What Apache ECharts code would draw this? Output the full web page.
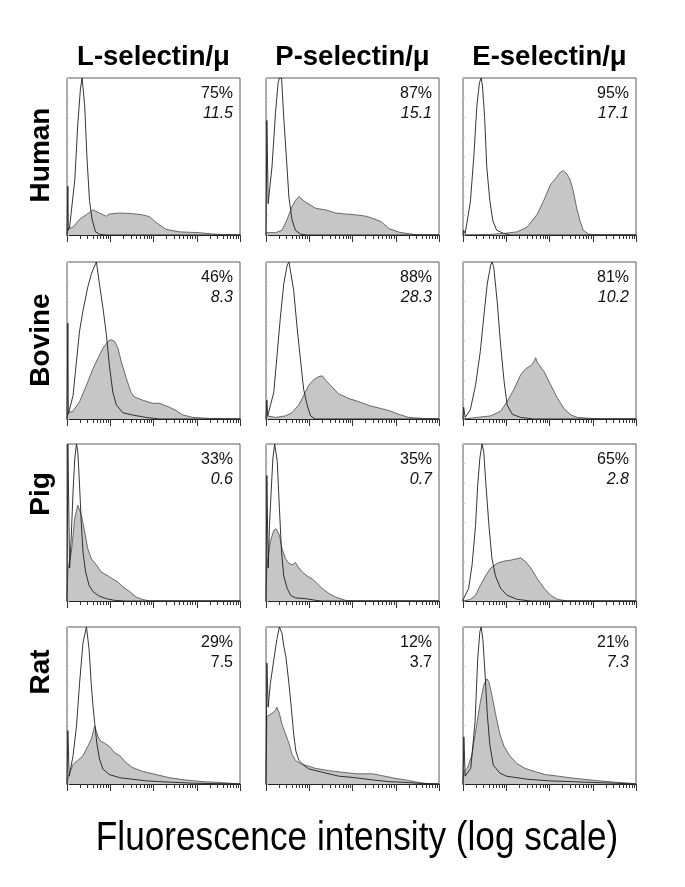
<!DOCTYPE html>
<html><head><meta charset="utf-8">
<script src="https://cdn.jsdelivr.net/npm/echarts@6/dist/echarts.min.js"></script>
<style>html,body{margin:0;padding:0;background:#fff}#c{width:685px;height:887px}</style>
</head><body><div id="c"></div>
<script>
// ---------- text / labels ----------
const columns = ['L-selectin/μ', 'P-selectin/μ', 'E-selectin/μ'];
const rows = ['Human', 'Bovine', 'Pig', 'Rat'];
const pctPositive = [[75, 87, 95], [46, 88, 81], [33, 35, 65], [29, 12, 21]];
const mfi = [['11.5', '15.1', '17.1'], ['8.3', '28.3', '10.2'], ['0.6', '0.7', '2.8'], ['7.5', '3.7', '7.3']];
const mfiItalic = [[true, true, true], [true, true, true], [true, true, true], [false, false, true]];
const xAxisTitle = 'Fluorescence intensity (log scale)';
const decadeTicks = [0, 1, 2, 3, 4];           // log10 of 10^0 .. 10^4
const minorMultipliers = [2, 3, 4, 5, 6, 7, 8, 9];

// ---------- histograms: [log10 intensity, % of panel height] ----------
// control (open) curves
const humanL_ctrl = [[0,0],[0.02,31],[0.03,3],[0.06,5],[0.18,35],[0.25,71],[0.31,93],[0.35,100],[0.41,82],[0.46,50],[0.52,22],[0.58,10],[0.66,2],[0.75,0.5],[0.9,0],[4,0]];
const humanP_ctrl = [[0,0],[0.02,73],[0.05,20],[0.14,44],[0.22,78],[0.28,97],[0.31,100],[0.36,100],[0.41,75],[0.47,50],[0.53,24],[0.6,10],[0.68,3],[0.8,0.5],[0.95,0],[4,0]];
const humanE_ctrl = [[0,0],[0.015,3],[0.05,1],[0.17,21],[0.25,50],[0.32,82],[0.38,97],[0.42,100],[0.45,95],[0.5,75],[0.55,43],[0.62,22],[0.69,9],[0.78,3],[0.94,1],[1.09,0],[4,0]];
const bovineL_ctrl = [[0,0],[0.02,61],[0.03,3],[0.06,4],[0.14,15],[0.22,37],[0.29,56],[0.37,69],[0.48,84],[0.56,92],[0.6,95],[0.68,100],[0.75,86],[0.83,71],[0.91,54],[0.98,34],[1.06,17],[1.14,9],[1.29,4],[1.52,2.5],[1.83,1],[2.14,0],[4,0]];
const bovineP_ctrl = [[0,0],[0.02,12],[0.04,2],[0.06,2],[0.18,17],[0.25,39],[0.33,64],[0.41,86],[0.49,98],[0.53,100],[0.56,99],[0.64,82],[0.72,58],[0.8,37],[0.87,19],[0.95,9],[1.03,2],[1.14,0],[4,0]];
const bovineE_ctrl = [[0,0],[0.015,7.5],[0.05,1],[0.17,6],[0.29,21.5],[0.4,43],[0.48,65],[0.56,86],[0.64,98],[0.67,100],[0.71,97],[0.79,75],[0.87,47],[0.95,24],[1.02,9],[1.14,3],[1.33,1],[1.64,0],[4,0]];
const pigL_ctrl = [[0,0],[0.02,100],[0.06,21],[0.1,42],[0.14,70],[0.18,91],[0.22,100],[0.25,95],[0.29,74],[0.33,50],[0.37,31],[0.43,18.5],[0.51,10],[0.6,6],[0.75,3],[0.91,1.5],[1.1,0.4],[1.37,0],[4,0]];
const pigP_ctrl = [[0,0],[0.02,80],[0.05,21],[0.08,48],[0.12,70],[0.16,91],[0.2,100],[0.26,89],[0.31,59],[0.36,31],[0.41,16],[0.49,8],[0.57,3.6],[0.68,2],[0.91,1.5],[1.15,0.4],[1.3,0],[4,0]];
const pigE_ctrl = [[0,0],[0.015,1.5],[0.13,8],[0.21,23],[0.29,48],[0.34,74],[0.39,91],[0.44,100],[0.48,95],[0.53,74],[0.6,48],[0.67,27],[0.75,16],[0.87,8],[1.02,3.6],[1.26,1],[1.57,0],[4,0]];
const ratL_ctrl = [[0,0],[0.02,34],[0.05,5],[0.14,18],[0.22,37],[0.29,64],[0.37,90],[0.45,100],[0.51,86],[0.56,64],[0.6,50],[0.64,39],[0.69,26],[0.75,16],[0.83,9.5],[0.98,6],[1.22,4],[1.52,3],[1.83,2],[2.14,1.5],[2.52,1],[2.91,0.5],[4,0]];
const ratP_ctrl = [[0,0],[0.02,77],[0.05,49],[0.1,64],[0.18,79],[0.25,92],[0.31,100],[0.37,96],[0.41,88],[0.46,81],[0.53,64],[0.59,47],[0.64,32],[0.69,21],[0.76,15],[0.87,12],[0.99,9.6],[1.3,7.5],[1.68,5],[2.07,4],[2.46,2.6],[2.84,1.5],[3.23,1],[3.61,0.3],[4,0]];
const ratE_ctrl = [[0,0],[0.02,30],[0.05,5],[0.18,10],[0.28,40],[0.34,80],[0.39,97],[0.42,100],[0.46,92],[0.51,70],[0.56,45],[0.62,25],[0.7,12],[0.85,7],[1.0,5],[1.5,3],[2.0,2],[2.5,1.5],[3.0,1],[3.5,0.5],[4,0]];

// selectin/μ binding (filled) curves
const humanL_fill = [[0,0],[0.02,4],[0.14,5],[0.29,10],[0.45,13],[0.6,16],[0.64,16.5],[0.75,14],[0.91,12],[0.98,13.4],[1.22,14],[1.52,13.6],[1.75,12.8],[1.91,11.7],[2.06,8],[2.29,3.6],[2.6,2],[3.06,1.5],[3.37,0.6],[3.83,0],[4,0]];
const humanP_fill = [[0,0],[0.02,1.5],[0.22,1.5],[0.37,3],[0.49,10],[0.6,18],[0.68,22],[0.76,24.5],[0.91,21],[1.15,17],[1.38,16],[1.61,14],[1.84,13.4],[2.08,12.8],[2.31,12],[2.47,10.6],[2.66,8.5],[2.85,4],[3.09,1.7],[3.4,0.4],[3.63,0],[4,0]];
const humanE_fill = [[0,0],[0.015,0.4],[0.63,0.4],[0.94,1],[1.25,2],[1.48,5],[1.71,13],[1.86,21.5],[2.02,32],[2.13,35.5],[2.25,40],[2.32,41],[2.4,39],[2.48,35],[2.55,28],[2.63,17],[2.71,8.6],[2.78,3],[2.9,0.6],[3.09,0],[4,0]];
const bovineL_fill = [[0,0],[0.02,4],[0.14,5],[0.29,11],[0.45,21.5],[0.6,32],[0.72,39],[0.83,45],[0.95,49.5],[1.02,50.5],[1.1,49.5],[1.18,45],[1.25,37],[1.37,26],[1.48,17],[1.56,14],[1.75,12],[1.98,10],[2.14,10],[2.37,7.5],[2.52,5.4],[2.68,2.6],[2.91,1],[3.29,0.4],[3.83,0],[4,0]];
const bovineP_fill = [[0,0],[0.02,2],[0.22,1],[0.45,2],[0.6,4],[0.76,9],[0.87,15],[0.99,21.5],[1.1,25],[1.22,27],[1.3,27.5],[1.37,25],[1.49,21.5],[1.68,16],[1.92,13],[2.15,11],[2.38,8.6],[2.61,7],[2.84,5.4],[3.07,3],[3.3,1],[3.61,0.4],[3.98,0],[4,0]];
const bovineE_fill = [[0,0],[0.015,1],[0.33,1],[0.64,2],[0.87,5],[1.02,11],[1.18,19],[1.33,28],[1.45,32],[1.57,34],[1.65,37],[1.68,39],[1.72,36],[1.76,35.5],[1.88,30],[2.03,21.5],[2.19,13],[2.34,6.5],[2.5,2.5],[2.65,1],[2.96,0.4],[3.19,0],[4,0]];
const pigL_fill = [[0,0],[0.02,20],[0.05,21],[0.1,31],[0.18,53],[0.25,61],[0.29,62],[0.33,55],[0.41,44],[0.48,33.5],[0.56,27],[0.68,23],[0.79,18.5],[0.95,16],[1.06,14],[1.18,12],[1.29,9],[1.45,6],[1.6,2.5],[1.75,1],[1.91,0],[4,0]];
const pigP_fill = [[0,0],[0.02,22],[0.05,21],[0.1,38],[0.18,45],[0.23,46],[0.31,42],[0.37,33.5],[0.45,27],[0.53,24],[0.6,23],[0.68,24.5],[0.76,21],[0.84,18.5],[0.95,16],[1.07,14],[1.19,11],[1.3,8],[1.46,4.7],[1.61,2.5],[1.84,0.4],[2.08,0],[4,0]];
const pigE_fill = [[0,0],[0.015,0.5],[0.17,1],[0.29,3.6],[0.4,10],[0.52,16],[0.64,21],[0.79,24],[0.95,25.4],[1.1,26],[1.26,27],[1.33,27.5],[1.45,25],[1.57,21],[1.72,14],[1.88,8],[2.03,3.6],[2.19,1],[2.42,0],[4,0]];
const ratL_fill = [[0,0],[0.02,3],[0.06,7],[0.14,12.5],[0.25,15],[0.37,18],[0.48,24],[0.56,28.5],[0.6,32.6],[0.64,37],[0.72,30],[0.79,27],[0.87,26],[0.98,24],[1.1,20],[1.22,18],[1.37,13.5],[1.52,10.4],[1.75,8],[2.06,6],[2.37,4],[2.75,2.5],[3.14,1.5],[3.52,1],[4,0]];
const ratP_fill = [[0,0],[0.02,43],[0.06,44],[0.14,45],[0.22,47],[0.25,49],[0.31,45],[0.37,38],[0.45,32],[0.53,26],[0.6,19],[0.68,15],[0.8,13],[0.91,12],[1.14,10],[1.45,8.5],[1.76,7.5],[2.07,6.5],[2.46,6.5],[2.69,5.3],[2.99,3.6],[3.23,2.6],[3.46,1.3],[3.69,0.4],[3.98,0],[4,0]];
const ratE_fill = [[0,0],[0.02,8],[0.1,10],[0.2,18],[0.3,35],[0.4,52],[0.48,63],[0.55,67],[0.6,65],[0.68,55],[0.75,45],[0.85,32],[0.95,24],[1.08,18],[1.25,13],[1.43,10],[1.65,8],[1.9,6],[2.2,5],[2.47,4],[2.8,3],[3.16,2],[3.5,1.2],[3.86,0.5],[4,0]];

const controls = [
  [humanL_ctrl, humanP_ctrl, humanE_ctrl],
  [bovineL_ctrl, bovineP_ctrl, bovineE_ctrl],
  [pigL_ctrl, pigP_ctrl, pigE_ctrl],
  [ratL_ctrl, ratP_ctrl, ratE_ctrl]
];
const fills = [
  [humanL_fill, humanP_fill, humanE_fill],
  [bovineL_fill, bovineP_fill, bovineE_fill],
  [pigL_fill, pigP_fill, pigE_fill],
  [ratL_fill, ratP_fill, ratE_fill]
];

// ---------- layout ----------
const colLeft = [67, 266, 463];
const rowTop = [78, 262, 444, 627];
const panelW = 173, panelH = 157;
const rowLabelY = [155, 340, 494, 672];
const FONT = '"Liberation Sans", Arial, Helvetica, sans-serif';

const minorTickValues = [];
decadeTicks.slice(0, 4).forEach(d => minorMultipliers.forEach(m => minorTickValues.push(d + Math.log10(m))));

const grid = [], xAxis = [], yAxis = [], series = [], graphic = [];
rows.forEach((rname, r) => {
  columns.forEach((cname, c) => {
    const i = r * 3 + c;
    grid.push({ left: colLeft[c], top: rowTop[r], width: panelW, height: panelH, show: true,
      borderColor: '#5a5a5a', borderWidth: 1, backgroundColor: 'transparent' });
    xAxis.push({ gridIndex: i, type: 'value', min: 0, max: 4,
      axisLine: { show: true, onZero: false, lineStyle: { color: '#222', width: 1 } },
      axisTick: { show: true, customValues: minorTickValues, length: 4, lineStyle: { color: '#333', width: 1 } },
      axisLabel: { show: false }, splitLine: { show: false } });
    xAxis.push({ gridIndex: i, type: 'value', min: 0, max: 4, position: 'bottom',
      axisLine: { show: false },
      axisTick: { show: true, customValues: decadeTicks, length: 7, lineStyle: { color: '#333', width: 1 } },
      axisLabel: { show: false }, splitLine: { show: false } });
    yAxis.push({ gridIndex: i, type: 'value', min: 0, max: 100, interval: 12.5,
      axisLine: { show: false },
      axisTick: { show: true, inside: true, length: 2, lineStyle: { color: '#c4c4c4' } },
      axisLabel: { show: false }, splitLine: { show: false } });
    series.push({ type: 'line', xAxisIndex: 2 * i, yAxisIndex: i, data: fills[r][c],
      symbol: 'none', silent: true, z: 2,
      lineStyle: { color: '#4a4a4a', width: 0.8 },
      areaStyle: { color: '#c6c6c6', opacity: 1 } });
    series.push({ type: 'line', xAxisIndex: 2 * i, yAxisIndex: i, data: controls[r][c],
      symbol: 'none', silent: true, z: 3,
      lineStyle: { color: '#1e1e1e', width: 0.9 } });
    // percent positive and MFI
    const rx = colLeft[c] + panelW - 7;
    graphic.push({ type: 'text', x: rx, y: rowTop[r] + 16, silent: true,
      style: { text: pctPositive[r][c] + '%', font: '16px ' + FONT, fill: '#111', textAlign: 'right', textVerticalAlign: 'middle' } });
    graphic.push({ type: 'text', x: rx, y: rowTop[r] + 36, silent: true,
      style: { text: mfi[r][c], font: (mfiItalic[r][c] ? 'italic ' : '') + '16px ' + FONT, fill: '#111', textAlign: 'right', textVerticalAlign: 'middle' } });
  });
  graphic.push({ type: 'text', x: 41, y: rowLabelY[r], rotation: Math.PI / 2, silent: true,
    style: { text: rname, font: 'bold 28px ' + FONT, fill: '#000', textAlign: 'center', textVerticalAlign: 'middle' } });
});
columns.forEach((cname, c) => {
  graphic.push({ type: 'text', x: colLeft[c] + panelW / 2, y: 57, silent: true,
    style: { text: cname, font: 'bold 27.5px ' + FONT, fill: '#000', textAlign: 'center', textVerticalAlign: 'middle' } });
});
graphic.push({ type: 'text', x: 357, y: 839, scaleX: 0.88, silent: true,
  style: { text: xAxisTitle, font: '40px ' + FONT, fill: '#000', textAlign: 'center', textVerticalAlign: 'middle' } });

const chart = echarts.init(document.getElementById('c'), null, { renderer: 'canvas' });
chart.setOption({ animation: false, backgroundColor: '#fff', grid, xAxis, yAxis, series, graphic });
</script></body></html>
